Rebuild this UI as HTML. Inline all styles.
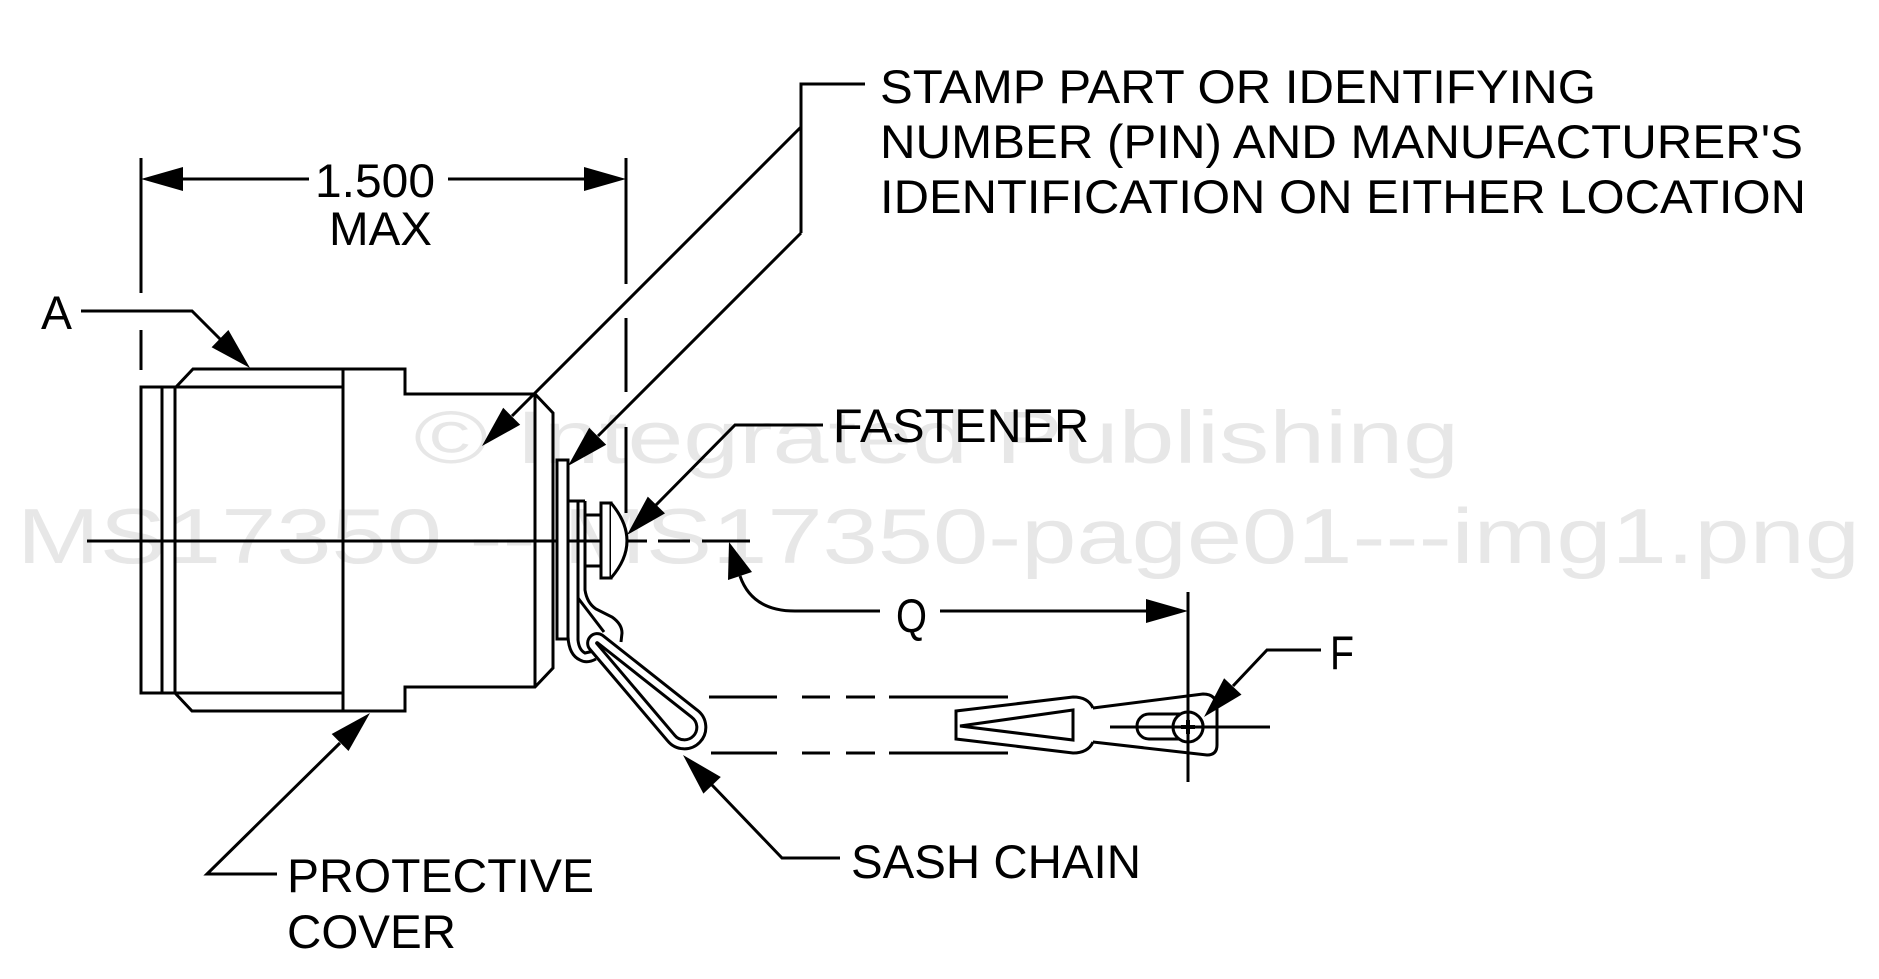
<!DOCTYPE html>
<html>
<head>
<meta charset="utf-8">
<style>
html,body{margin:0;padding:0;background:#fff;}
svg{display:block;}
text{font-family:"Liberation Sans",Arial,sans-serif;}
</style>
</head>
<body>
<svg width="1879" height="979" viewBox="0 0 1879 979" xmlns="http://www.w3.org/2000/svg">
<rect width="1879" height="979" fill="#fff"/>

<!-- watermark -->
<g fill="#e7e7e7">
<text x="414" y="463" font-size="74" textLength="1045" lengthAdjust="spacingAndGlyphs">© Integrated Publishing</text>
<text x="17" y="563" font-size="78" textLength="1843" lengthAdjust="spacingAndGlyphs">MS17350 -- MS17350-page01---img1.png</text>
</g>

<g stroke="#000" stroke-width="3" fill="none" stroke-linecap="butt" stroke-linejoin="miter">
<!-- extension lines for 1.500 -->
<line x1="141" y1="158" x2="141" y2="293"/>
<line x1="141" y1="330" x2="141" y2="370"/>
<line x1="626" y1="158" x2="626" y2="284"/>
<line x1="626" y1="318" x2="626" y2="392"/>
<line x1="626" y1="427" x2="626" y2="513"/>
<!-- dimension line -->
<line x1="183" y1="179" x2="309" y2="179"/>
<line x1="448" y1="179" x2="584" y2="179"/>

<!-- cover outline -->
<path d="M176,387 L193,369 L405,369 L405,394 L535,394 L553,413 L553,668 L535,687 L405,687 L405,711 L192,711 L175,693"/>
<rect x="141" y="387" width="202" height="306"/>
<line x1="162" y1="387" x2="162" y2="693"/>
<line x1="175" y1="387" x2="175" y2="693"/>
<line x1="343" y1="369" x2="343" y2="711"/>
<line x1="535" y1="394" x2="535" y2="687"/>

<!-- centerline -->
<line x1="87" y1="541" x2="647" y2="541"/>
<line x1="658" y1="541" x2="690" y2="541"/>
<line x1="702" y1="541" x2="750" y2="541"/>

<!-- flange plate -->
<rect x="557" y="460" width="11" height="179" fill="#fff"/>
<!-- strap -->
<line x1="568" y1="501" x2="585" y2="501"/>
<path d="M568,501 L568,637 Q569,655 580,660 Q587,664 596,659"/>
<path d="M578,501 L578,640 Q579,650 585,653 L594,651"/>
<path d="M578,598 L604,632"/>
<path d="M585,501 L585,590 Q587,603 596,609 L612,617 Q622,624 622,633 L621,642"/>
<!-- shaft -->
<line x1="585" y1="515" x2="601" y2="515"/>
<line x1="585" y1="566" x2="601" y2="566"/>
<!-- washer -->
<rect x="601" y="503" width="10" height="75" fill="#fff"/>
<!-- dome -->
<path d="M611,503 Q643,541 611,578" fill="#fff"/>
</g>

<!-- teardrop chain link (double wire) -->
<path d="M600.1,639.1 L694.5,713.7 A17,17 0 1,1 671.1,738.0 L593.2,646.2 A5,5 0 0,1 600.1,639.1 Z" fill="#fff" stroke="#000" stroke-width="12" stroke-linejoin="round"/>
<path d="M600.1,639.1 L694.5,713.7 A17,17 0 1,1 671.1,738.0 L593.2,646.2 A5,5 0 0,1 600.1,639.1 Z" fill="none" stroke="#fff" stroke-width="6" stroke-linejoin="round"/>

<g stroke="#000" stroke-width="3" fill="none">
<!-- dashed chain lines -->
<line x1="709" y1="697" x2="777" y2="697"/>
<line x1="802" y1="697" x2="830" y2="697"/>
<line x1="846" y1="697" x2="875" y2="697"/>
<line x1="889" y1="697" x2="1008" y2="697"/>
<line x1="711" y1="753" x2="777" y2="753"/>
<line x1="802" y1="753" x2="830" y2="753"/>
<line x1="846" y1="753" x2="875" y2="753"/>
<line x1="889" y1="753" x2="1008" y2="753"/>

<!-- link 2 -->
<path d="M1073,711 L1093,708 L1203,694 Q1217,694 1217,708 L1217,745 Q1217,755 1207,755 L1093,742 L1073,740"/>
<rect x="1137" y="714" width="66" height="25" rx="12" ry="12"/>
<circle cx="1188" cy="727" r="15" fill="#fff"/>
<line x1="1110" y1="727" x2="1270" y2="727"/>
<line x1="1181" y1="727" x2="1195" y2="727" stroke-width="4"/>
<line x1="1188" y1="720" x2="1188" y2="734" stroke-width="4"/>
<!-- link 1 -->
<path d="M1093,708 Q1088,697 1073,697 L956,711 L956,739 L1073,753 Q1088,753 1093,742" fill="#fff"/>
<path d="M1073,710 L960,726 L1073,740 Z"/>

<!-- Q dimension -->
<line x1="1188" y1="592" x2="1188" y2="782"/>
<path d="M740,576 Q752,611 795,611 L880,611"/>
<line x1="940" y1="611" x2="1146" y2="611"/>

<!-- leaders -->
<path d="M81,311 L192,311 L224,343"/>
<path d="M865,84 L801,84 L801,233"/>
<line x1="801" y1="127" x2="512" y2="416"/>
<line x1="801" y1="233" x2="598" y2="436"/>
<path d="M823,425 L735,425 L656,505"/>
<path d="M1321,650 L1267,650 L1233,686"/>
<path d="M840,858 L782,858 L712,785"/>
<path d="M277,874 L207,874 L340,743"/>
</g>

<!-- arrowheads -->
<g fill="#000" stroke="none">
<polygon points="141,179 183,167 183,191"/>
<polygon points="626,179 584,167 584,191"/>
<polygon points="250,368 211.6,347.2 228.4,330"/>
<polygon points="482,446 503.2,407.8 520.2,424.8"/>
<polygon points="568,466 589.2,427.8 606.2,444.8"/>
<polygon points="627,535 647.8,496.6 665,513.4"/>
<polygon points="729,542 728,580 752,572"/>
<polygon points="1188,611 1146,599 1146,623"/>
<polygon points="1204,717 1224.1,678.2 1241.5,694.6"/>
<polygon points="683,755 720.8,777 703.4,793.6"/>
<polygon points="370,713 348.5,751 331.7,734"/>
</g>

<!-- labels -->
<g fill="#000" font-size="47">
<text x="880" y="103" textLength="716" lengthAdjust="spacingAndGlyphs">STAMP PART OR IDENTIFYING</text>
<text x="880" y="158" textLength="923" lengthAdjust="spacingAndGlyphs">NUMBER (PIN) AND MANUFACTURER'S</text>
<text x="880" y="213" textLength="926" lengthAdjust="spacingAndGlyphs">IDENTIFICATION ON EITHER LOCATION</text>
<text x="315" y="197" textLength="120" lengthAdjust="spacingAndGlyphs">1.500</text>
<text x="329" y="245" textLength="103" lengthAdjust="spacingAndGlyphs">MAX</text>
<text x="41" y="329" textLength="31" lengthAdjust="spacingAndGlyphs">A</text>
<text x="833" y="442" textLength="256" lengthAdjust="spacingAndGlyphs">FASTENER</text>
<text x="896" y="632" textLength="31" lengthAdjust="spacingAndGlyphs">Q</text>
<text x="1330" y="669" textLength="24" lengthAdjust="spacingAndGlyphs">F</text>
<text x="851" y="878" textLength="290" lengthAdjust="spacingAndGlyphs">SASH CHAIN</text>
<text x="287" y="892" textLength="307" lengthAdjust="spacingAndGlyphs">PROTECTIVE</text>
<text x="287" y="948" textLength="169" lengthAdjust="spacingAndGlyphs">COVER</text>
</g>
</svg>
</body>
</html>
